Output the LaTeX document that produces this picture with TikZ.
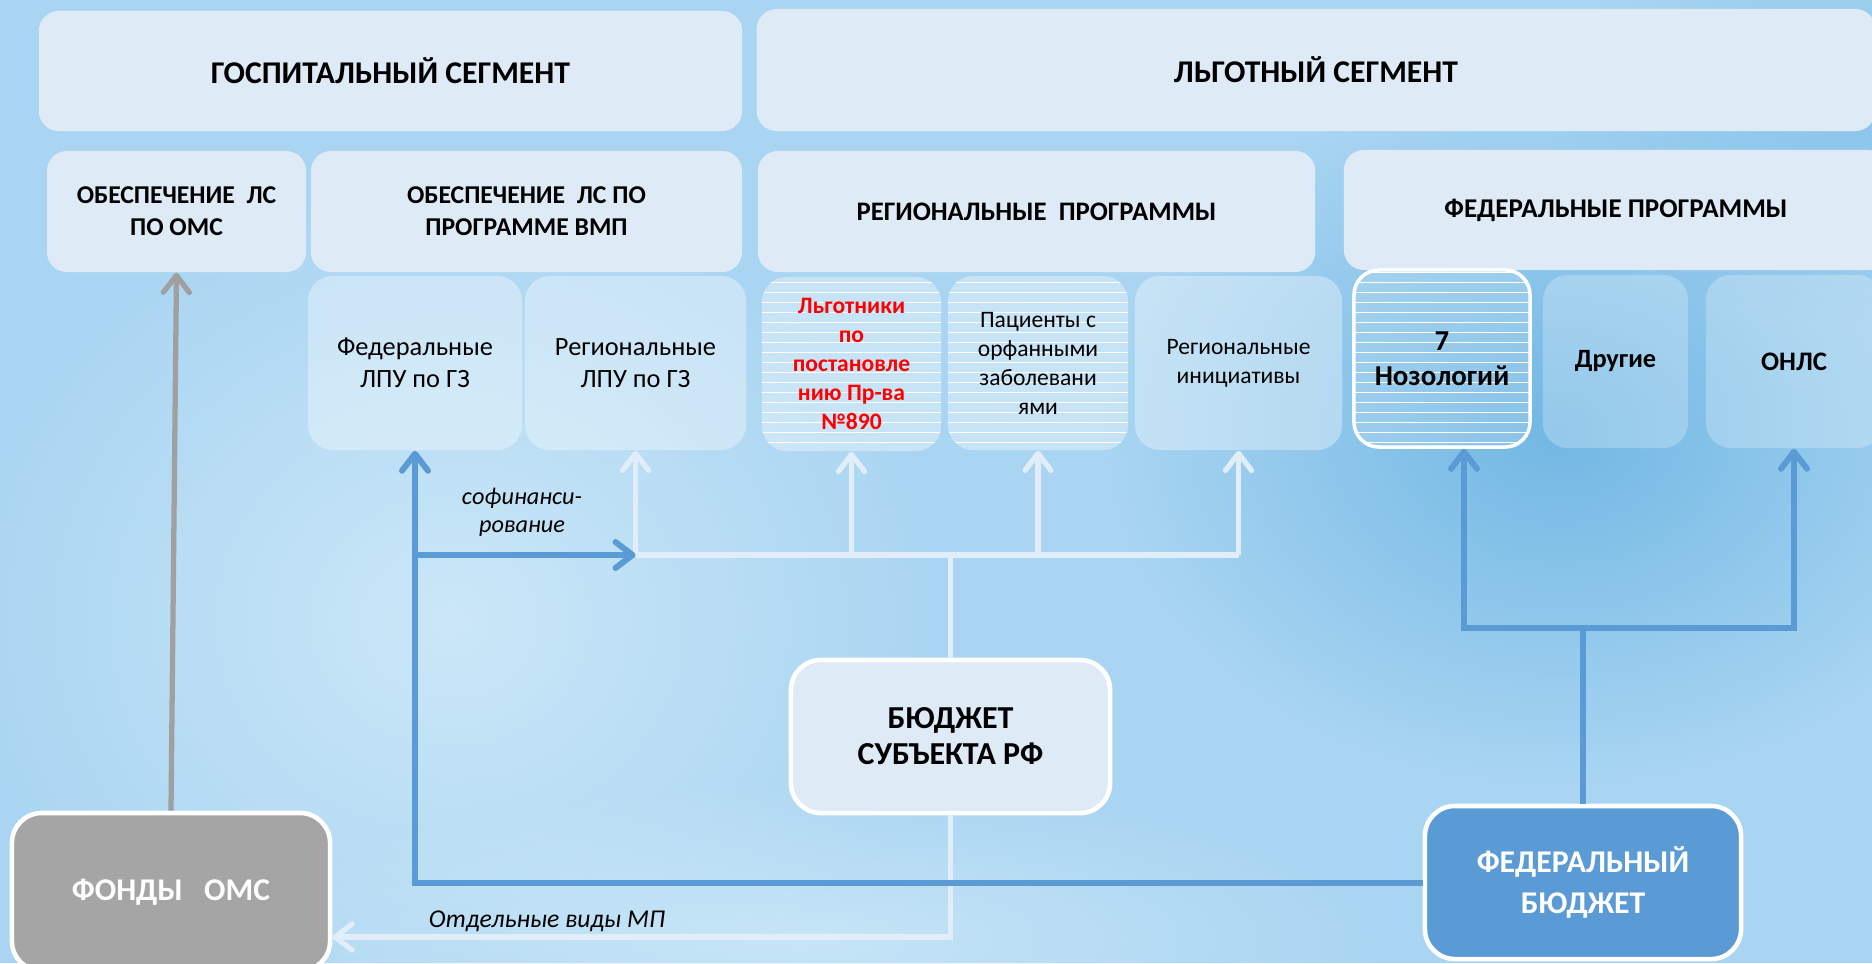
\documentclass[tikz,border=0pt]{standalone}
\usepackage{fontspec}
\setmainfont{Carlito}
\usetikzlibrary{arrows.meta,patterns.meta,fadings}
\definecolor{bgbase}{HTML}{A9D5F2}
\definecolor{bglight}{HTML}{D4ECFA}
\definecolor{bgdeep}{HTML}{5FAEDF}
\definecolor{boxlight}{HTML}{DEEAF6}
\definecolor{linelight}{HTML}{E1EDF8}
\definecolor{fedblue}{HTML}{5B9BD5}
\definecolor{omsgray}{HTML}{A5A5A5}
\definecolor{flowgray}{HTML}{A0A0A0}
\tikzfading[name=softglow, inner color=transparent!0, outer color=transparent!100]

\begin{document}
\begin{tikzpicture}[x=0.01cm,y=-0.01cm]
\tikzstyle{every node}+=[inner sep=0pt, align=center]
\tikzstyle{segbox}=[fill=boxlight, rounded corners=0.2cm, font=\bfseries\fontsize{9}{11}\selectfont]
\tikzstyle{progbox}=[fill=boxlight, rounded corners=0.2cm, font=\bfseries\fontsize{7.3}{9.1}\selectfont]
\tikzstyle{subbox}=[fill=white, fill opacity=0.35, text opacity=1, rounded corners=0.25cm, font=\fontsize{7.5}{9.1}\selectfont]
\tikzstyle{smalltext}=[font=\fontsize{6.7}{8.25}\selectfont]
\tikzstyle{striped}=[postaction={pattern={Lines[distance=0.1cm, line width=0.35pt]}, pattern color=white, fill opacity=0.35}]
\tikzstyle{basebox}=[draw=white, line width=1.3pt, rounded corners=0.3cm, font=\bfseries\fontsize{9}{11.4}\selectfont]
\tikzstyle{flowlight}=[draw=linelight, line width=1.5pt]
\tikzstyle{flowblue}=[draw=fedblue, line width=1.7pt]
\tikzstyle{flowgray}=[draw=flowgray, line width=1.5pt]
\tikzstyle{barb}=[-{Straight Barb[length=0.17cm,width=0.26cm,round]}]
\tikzstyle{note}=[font=\itshape\fontsize{6.9}{8}\selectfont]

\useasboundingbox (0,0) rectangle (1872,963);
\begin{scope}
\clip (0,0) rectangle (1872,963);
\fill[bgbase] (0,0) rectangle (1872,963);
\fill[bglight, opacity=0.8, path fading=softglow] (450,620) ellipse (5cm and 4.5cm);
\fill[bglight, opacity=0.7, path fading=softglow] (800,940) ellipse (6cm and 1.6cm);
\fill[bgdeep, opacity=0.75, path fading=softglow] (1560,430) ellipse (4.5cm and 3.5cm);
\fill[bgdeep, opacity=0.4, path fading=softglow] (1850,120) ellipse (3cm and 2cm);
\end{scope}

\node (hosp) at (390.5,71) [segbox, minimum width=7.03cm, minimum height=1.2cm] {ГОСПИТАЛЬНЫЙ СЕГМЕНТ};
\node (lgot) at (1316,70) [segbox, minimum width=11.18cm, minimum height=1.22cm] {ЛЬГОТНЫЙ СЕГМЕНТ};
\node (oms) at (176.5,211.5) [progbox, minimum width=2.59cm, minimum height=1.21cm] {ОБЕСПЕЧЕНИЕ\ \ ЛС\\ПО ОМС};
\node (vmp) at (526.5,211.5) [progbox, minimum width=4.31cm, minimum height=1.21cm] {ОБЕСПЕЧЕНИЕ\ \ ЛС ПО\\ПРОГРАММЕ ВМП};
\node (regprog) at (1036.5,211.5) [progbox, minimum width=5.57cm, minimum height=1.21cm, font=\bfseries\fontsize{7.6}{9.1}\selectfont] {РЕГИОНАЛЬНЫЕ\ \ ПРОГРАММЫ};
\node (fedprog) at (1616,210) [progbox, minimum width=5.44cm, minimum height=1.2cm, font=\bfseries\fontsize{7.7}{9.1}\selectfont] {ФЕДЕРАЛЬНЫЕ ПРОГРАММЫ};

\node (fedlpu) at (415,363) [subbox, minimum width=2.14cm, minimum height=1.74cm] {Федеральные\\ЛПУ по ГЗ};
\node (reglpu) at (635.5,363) [subbox, minimum width=2.21cm, minimum height=1.74cm] {Региональные\\ЛПУ по ГЗ};
\node (lgotniki) at (851.5,364) [subbox, striped, minimum width=1.79cm, minimum height=1.74cm, text=red, font=\bfseries\fontsize{6.7}{8.25}\selectfont] {Льготники\\по\\постановле\\нию Пр-ва\\№890};
\node (orphan) at (1038,363) [subbox, striped, smalltext, minimum width=1.8cm, minimum height=1.74cm] {Пациенты с\\орфанными\\заболевани\\ями};
\node (regini) at (1238.5,363) [subbox, smalltext, minimum width=2.07cm, minimum height=1.74cm] {Региональные\\инициативы};
\node (nozol) at (1442,358.5) [subbox, striped, draw=white, draw opacity=1, line width=1pt, fill opacity=0.15, minimum width=1.76cm, minimum height=1.77cm, font=\bfseries\fontsize{8.2}{10}\selectfont] {7\\Нозологий};
\node (drugie) at (1615.5,361.5) [subbox, fill opacity=0.25, minimum width=1.45cm, minimum height=1.73cm, font=\bfseries\fontsize{7.5}{9}\selectfont] {Другие};
\node (onls) at (1794,361.5) [subbox, fill opacity=0.25, minimum width=1.76cm, minimum height=1.73cm, font=\bfseries\fontsize{7.6}{9}\selectfont] {ОНЛС};

\node (fonds) at (171,892) [basebox, fill=omsgray, text=white, minimum width=3.18cm, minimum height=1.58cm] {ФОНДЫ\ \ \ ОМС};
\node (subj) at (950.5,736.5) [basebox, fill=boxlight, minimum width=3.19cm, minimum height=1.53cm, font=\bfseries\fontsize{9.1}{10.2}\selectfont] {БЮДЖЕТ\\СУБЪЕКТА РФ};
\node (fedbud) at (1583,882.5) [basebox, fill=fedblue, text=white, minimum width=3.16cm, minimum height=1.53cm] {ФЕДЕРАЛЬНЫЙ\\БЮДЖЕТ};

\node (cofin) at (522,512) [note] {софинанси-\\рование};
\node (sepmp) at (547,921) [note, font=\itshape\fontsize{7.3}{8}\selectfont] {Отдельные виды МП};

\coordinate (bus) at (subj.north |- 0,555);
\coordinate (fondsin) at (fonds.east |- 0,937);
\coordinate (fedsplit) at (fedbud.north |- 0,628);

\draw[flowgray, barb] (fonds.north) -- (oms.south);
\draw[flowlight] (subj.north) -- (bus);
\draw[flowlight] (reglpu.south |- bus) -- (regini.south |- bus);
\foreach \n in {reglpu,lgotniki,orphan,regini}
  \draw[flowlight, barb] (\n.south |- bus) -- (\n.south);
\draw[flowlight, barb] (subj.south) |- (fondsin);
\draw[flowblue, barb] (fedbud.west) -| (fedlpu.south);
\draw[flowblue, barb] (fedlpu.south |- bus) -- (reglpu.south |- bus);
\draw[flowblue] (fedbud.north) -- (fedsplit);
\draw[flowblue, barb] (fedsplit) -| ([xshift=0.22cm]nozol.south);
\draw[flowblue, barb] (fedsplit) -| (onls.south);
\end{tikzpicture}
\end{document}
